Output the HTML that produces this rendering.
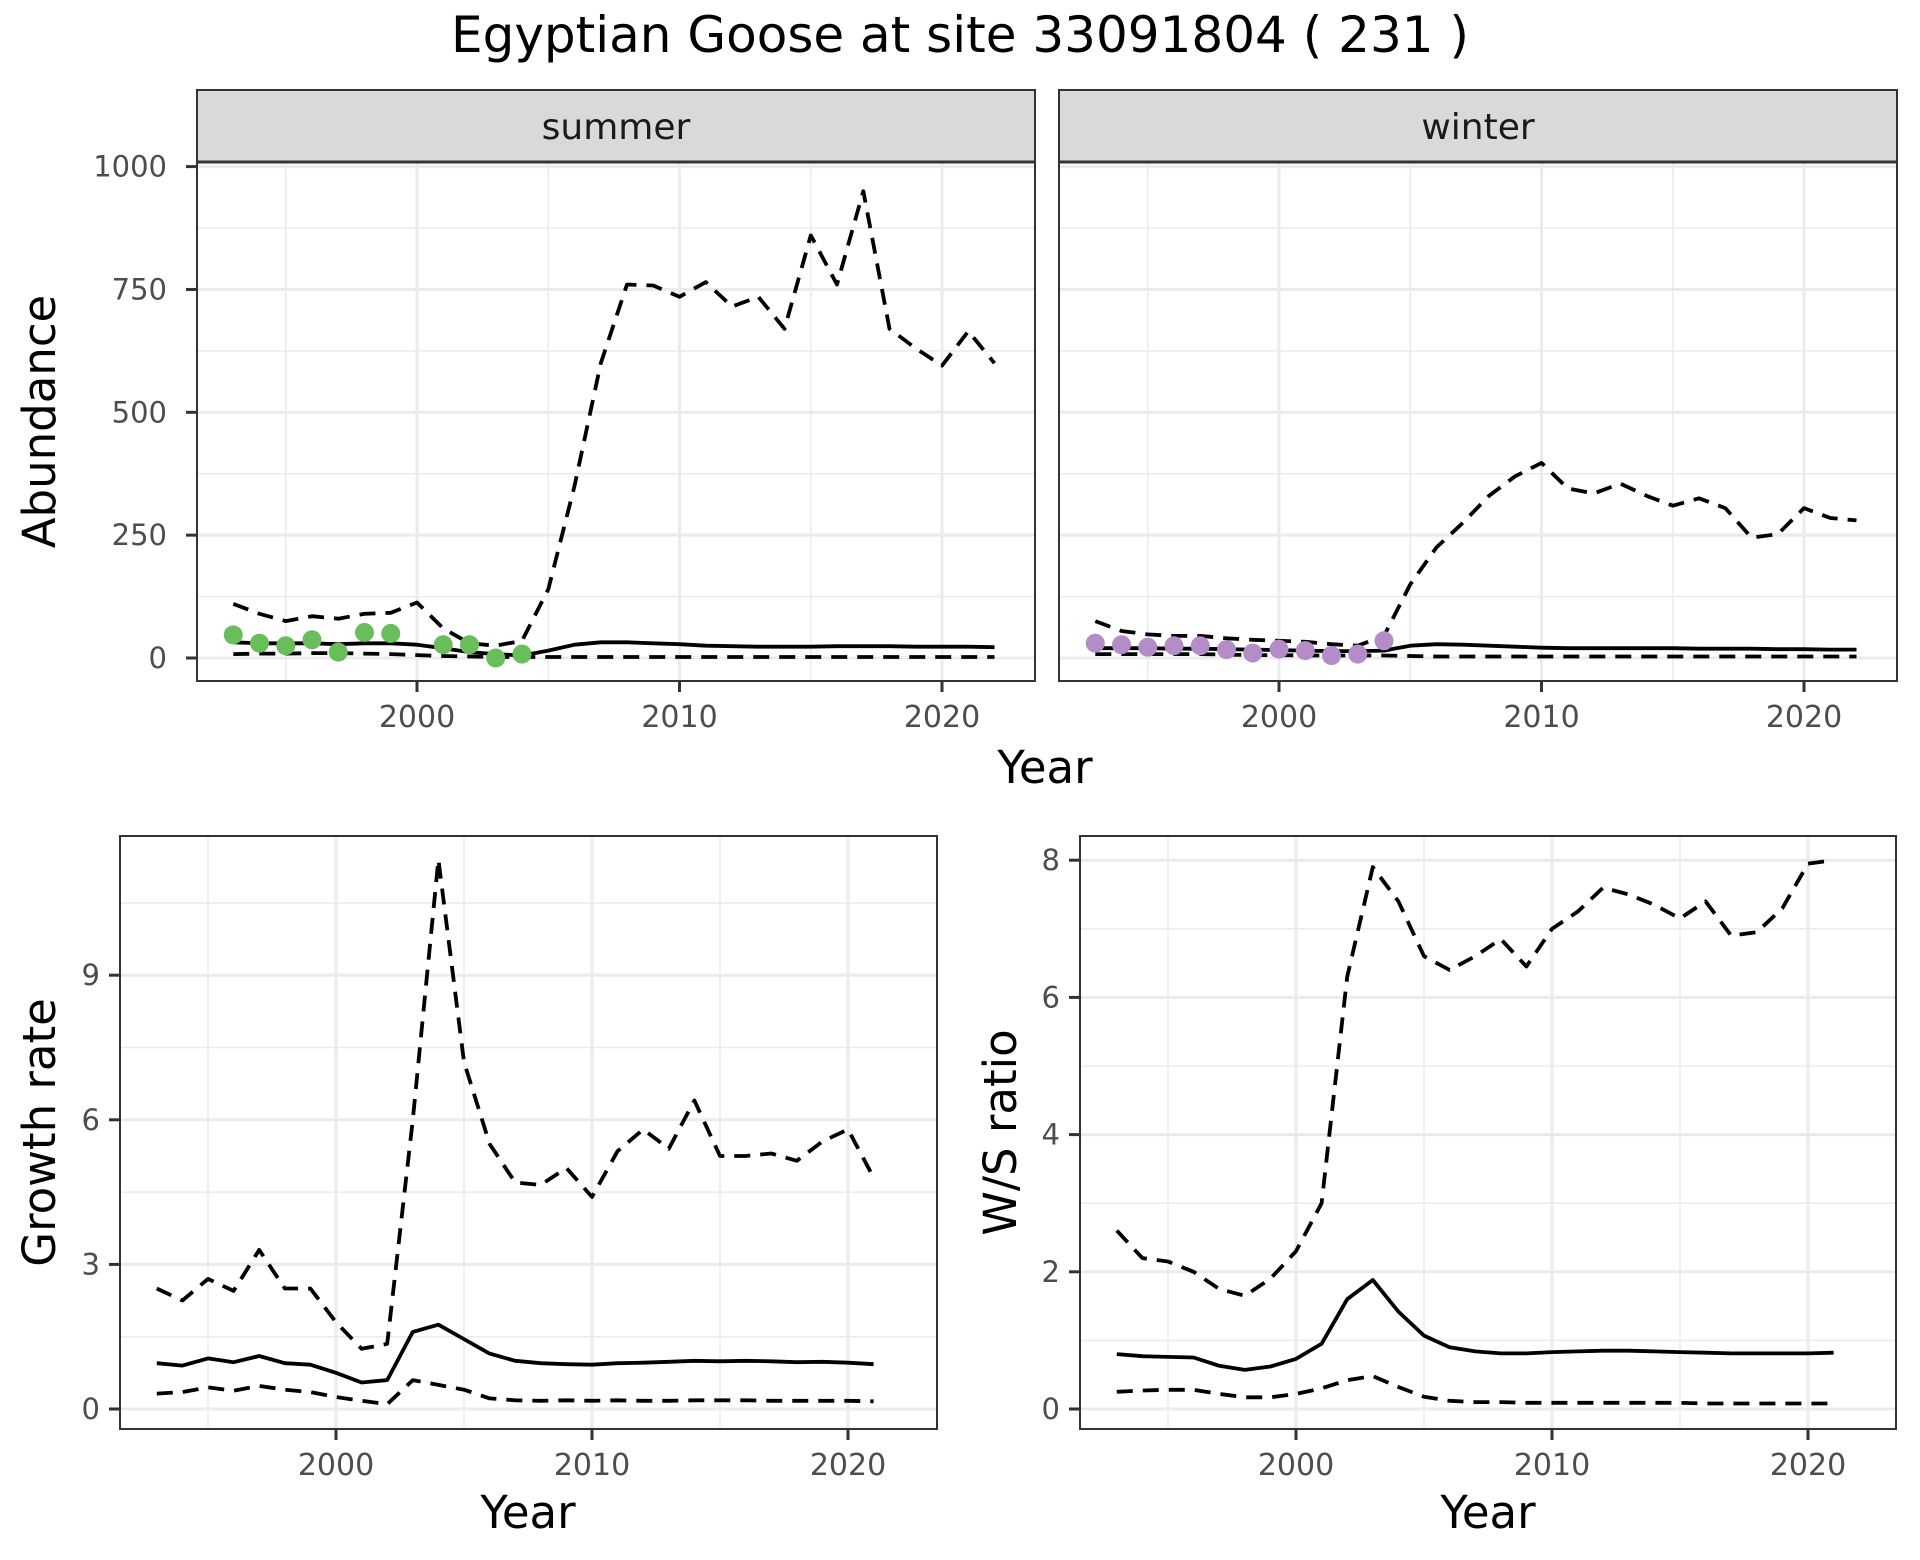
<!DOCTYPE html>
<html><head><meta charset="utf-8"><style>
html,body{margin:0;padding:0;background:#fff}
svg{display:block;font-family:"DejaVu Sans","Liberation Sans",sans-serif}
</style></head><body>
<svg id="chart" width="1920" height="1560" viewBox="0 0 1920 1560" xmlns="http://www.w3.org/2000/svg">
<text x="960" y="52" font-size="50" text-anchor="middle" fill="#000">Egyptian Goose at site 33091804 ( 231 )</text>
</svg>
<script>
const yearsAbund = [1993,1994,1995,1996,1997,1998,1999,2000,2001,2002,2003,2004,2005,2006,2007,2008,2009,2010,2011,2012,2013,2014,2015,2016,2017,2018,2019,2020,2021,2022];
const summerUpper = [110,90,75,85,80,90,92,113,60,30,25,35,140,350,600,760,758,735,765,715,735,670,860,760,950,670,630,595,665,600];
const summerMean = [32,30,30,30,28,30,30,27,20,12,8,5,15,27,32,32,30,28,25,24,23,23,23,24,24,24,23,23,23,22];
const summerLower = [8,9,9,10,10,9,8,6,4,3,2,2,2,2,2,2,2,2,2,2,2,2,2,2,2,2,2,2,2,2];
const summerPtYears = [1993,1994,1995,1996,1997,1998,1999,2001,2002,2003,2004];
const summerPts = [47,30,25,37,12,52,50,27,27,0,8];
const winterUpper = [75,55,48,45,45,40,37,35,33,28,25,45,150,225,275,330,370,397,345,335,355,330,310,325,305,245,252,305,285,280];
const winterMean = [20,20,20,19,19,18,17,16,15,14,14,15,25,28,27,25,23,21,20,20,20,20,20,19,19,19,18,18,17,17];
const winterLower = [8,8,8,8,8,7,6,6,5,5,5,5,4,3,3,3,3,3,3,3,3,3,3,3,3,3,3,3,3,3];
const winterPtYears = [1993,1994,1995,1996,1997,1998,1999,2000,2001,2002,2003,2004];
const winterPts = [30,27,22,25,25,17,10,18,15,5,8,35];
const yearsRate = [1993,1994,1995,1996,1997,1998,1999,2000,2001,2002,2003,2004,2005,2006,2007,2008,2009,2010,2011,2012,2013,2014,2015,2016,2017,2018,2019,2020,2021];
const growthUpper = [2.5,2.25,2.7,2.45,3.3,2.5,2.5,1.8,1.25,1.35,6.0,11.4,7.2,5.5,4.7,4.65,5.0,4.4,5.35,5.8,5.4,6.4,5.25,5.25,5.3,5.15,5.55,5.8,4.8];
const growthMean = [0.95,0.9,1.05,0.97,1.1,0.95,0.92,0.75,0.55,0.6,1.6,1.75,1.45,1.15,1.0,0.95,0.93,0.92,0.95,0.96,0.98,1.0,0.99,1.0,0.99,0.97,0.98,0.96,0.93];
const growthLower = [0.32,0.35,0.45,0.38,0.48,0.4,0.35,0.25,0.17,0.1,0.6,0.5,0.4,0.22,0.18,0.17,0.18,0.17,0.18,0.17,0.17,0.18,0.18,0.18,0.17,0.17,0.17,0.17,0.16];
const wsUpper = [2.6,2.2,2.15,2.0,1.75,1.65,1.9,2.3,3.0,6.3,7.9,7.4,6.6,6.4,6.6,6.85,6.45,7.0,7.25,7.6,7.5,7.35,7.15,7.4,6.9,6.95,7.3,7.95,8.0];
const wsMean = [0.8,0.77,0.76,0.75,0.63,0.57,0.62,0.73,0.95,1.6,1.88,1.42,1.07,0.9,0.84,0.81,0.81,0.83,0.84,0.85,0.85,0.84,0.83,0.82,0.81,0.81,0.81,0.81,0.82];
const wsLower = [0.25,0.27,0.28,0.28,0.22,0.17,0.17,0.22,0.3,0.42,0.48,0.32,0.18,0.12,0.1,0.1,0.09,0.09,0.09,0.09,0.09,0.09,0.09,0.08,0.08,0.08,0.08,0.08,0.08];
const xTicks = [2000,2010,2020];
const xMinor = [1995,2005,2015];
const abundTicks = [0,250,500,750,1000];
const abundMinor = [125,375,625,875];
const growthTicks = [0,3,6,9];
const growthMinor = [1.5,4.5,7.5,10.5];
const wsTicks = [0,2,4,6,8];
const wsMinor = [1,3,5,7];

const NS="http://www.w3.org/2000/svg";
const svg=document.getElementById('chart');
function el(tag,attrs,parent){const e=document.createElementNS(NS,tag);for(const k in attrs)e.setAttribute(k,attrs[k]);(parent||svg).appendChild(e);return e;}

function panel(o){
  const g=el('g',{});
  
  
  const xs=v=>o.x2000+(v-2000)*o.xPer10/10;
  const ys=v=>o.y0-v*o.yPer;
  el('rect',{x:o.left,y:o.top,width:o.right-o.left,height:o.bottom-o.top,fill:'#fff'},g);
  o.yMinor.forEach(v=>{const l=el('line',{x1:o.left,x2:o.right,y1:ys(v),y2:ys(v),stroke:'#ebebeb','stroke-width':1.5},g);});
  xMinor.forEach(v=>{const l=el('line',{x1:xs(v),x2:xs(v),y1:o.top,y2:o.bottom,stroke:'#ebebeb','stroke-width':1.5},g);});
  o.yTicks.forEach(v=>{const l=el('line',{x1:o.left,x2:o.right,y1:ys(v),y2:ys(v),stroke:'#ebebeb','stroke-width':3},g);});
  xTicks.forEach(v=>{const l=el('line',{x1:xs(v),x2:xs(v),y1:o.top,y2:o.bottom,stroke:'#ebebeb','stroke-width':3},g);});
  o.series.forEach(s=>{
    const d=s.years.map((yr,i)=>(i?'L':'M')+xs(yr).toFixed(1)+','+ys(s.vals[i]).toFixed(1)).join(' ');
    const p=el('path',{d:d,fill:'none',stroke:'#000','stroke-width':3.8,'stroke-linejoin':'round'},g);
    if(s.dash)p.setAttribute('stroke-dasharray','16,10');
    
    
  });
  if(o.pts){o.pts.years.forEach((yr,i)=>{const c=el('circle',{cx:xs(yr),cy:ys(o.pts.vals[i]),r:9.5,fill:o.pts.color},g);});}
  const b=el('rect',{x:o.left,y:o.top,width:o.right-o.left,height:o.bottom-o.top,fill:'none',stroke:'#333','stroke-width':2},g);
  
  if(o.strip){
    const sr=el('rect',{x:o.left,y:o.top-72,width:o.right-o.left,height:72,fill:'#d9d9d9',stroke:'#333','stroke-width':2},g);
    
    el('line',{x1:o.left,x2:o.right,y1:o.top,y2:o.top,stroke:'#333','stroke-width':3},g);
    const st=el('text',{x:(o.left+o.right)/2,y:o.top-23,'font-size':36,'text-anchor':'middle',fill:'#1a1a1a'},g);
    st.textContent=o.strip;
  }
  xTicks.forEach(v=>{
    el('line',{x1:xs(v),x2:xs(v),y1:o.bottom,y2:o.bottom+11,stroke:'#333','stroke-width':3},g);
    const t=el('text',{x:xs(v),y:o.bottom+46,'font-size':30,'text-anchor':'middle',fill:'#4d4d4d'},g);
    t.textContent=v;
  });
  if(o.yLabels){o.yTicks.forEach(v=>{
    el('line',{x1:o.left-11,x2:o.left,y1:ys(v),y2:ys(v),stroke:'#333','stroke-width':3},g);
    const t=el('text',{x:o.left-o.lblGap,y:ys(v)+10,'font-size':29,'text-anchor':'end',fill:'#4d4d4d'},g);
    t.textContent=v;
  });}
  if(o.yTitle){
    const cy=(o.top+o.bottom)/2;
    const t=el('text',{x:o.yTitleX,y:cy,'font-size':45,'text-anchor':'middle',fill:'#000',transform:`rotate(-90 ${o.yTitleX} ${cy})`},g);
    t.textContent=o.yTitle;
  }
  if(o.xTitle){
    const t=el('text',{x:o.xTitleX,y:o.xTitleY,'font-size':45,'text-anchor':'middle',fill:'#000'},g);
    t.textContent='Year';
  }
}
const aY0=658, aPer=0.4914;
panel({name:'summer-panel',left:197,right:1035,top:162,bottom:681,x2000:417,xPer10:262.5,y0:aY0,yPer:aPer,lblGap:30,
  yTicks:abundTicks,yMinor:abundMinor,yLabels:true,strip:'summer',yTitle:'Abundance',yTitleX:55,
  series:[{years:yearsAbund,vals:summerUpper,dash:true,name:'summer-upper-ci'},{years:yearsAbund,vals:summerMean,name:'summer-mean'},{years:yearsAbund,vals:summerLower,dash:true,name:'summer-lower-ci'}],
  pts:{years:summerPtYears,vals:summerPts,color:'#6abd5b'},xTitle:true,xTitleX:1045,xTitleY:783});
panel({name:'winter-panel',left:1059,right:1897,top:162,bottom:681,x2000:1279,xPer10:262.5,y0:aY0,yPer:aPer,lblGap:30,
  yTicks:abundTicks,yMinor:abundMinor,yLabels:false,strip:'winter',
  series:[{years:yearsAbund,vals:winterUpper,dash:true,name:'winter-upper-ci'},{years:yearsAbund,vals:winterMean,name:'winter-mean'},{years:yearsAbund,vals:winterLower,dash:true,name:'winter-lower-ci'}],
  pts:{years:winterPtYears,vals:winterPts,color:'#b48cc8'}});
panel({name:'growth-panel',left:120,right:937,top:836,bottom:1429,x2000:336,xPer10:256,y0:1409,yPer:48.2,lblGap:20,
  yTicks:growthTicks,yMinor:growthMinor,yLabels:true,yTitle:'Growth rate',yTitleX:55,
  series:[{years:yearsRate,vals:growthUpper,dash:true,name:'growth-upper-ci'},{years:yearsRate,vals:growthMean,name:'growth-mean'},{years:yearsRate,vals:growthLower,dash:true,name:'growth-lower-ci'}],
  xTitle:true,xTitleX:528,xTitleY:1528});
panel({name:'ws-ratio-panel',left:1080,right:1896,top:836,bottom:1429,x2000:1296,xPer10:256,y0:1409,yPer:68.6,lblGap:20,
  yTicks:wsTicks,yMinor:wsMinor,yLabels:true,yTitle:'W/S ratio',yTitleX:1016,
  series:[{years:yearsRate,vals:wsUpper,dash:true,name:'ws-upper-ci'},{years:yearsRate,vals:wsMean,name:'ws-mean'},{years:yearsRate,vals:wsLower,dash:true,name:'ws-lower-ci'}],
  xTitle:true,xTitleX:1488,xTitleY:1528});
</script>
</body></html>
